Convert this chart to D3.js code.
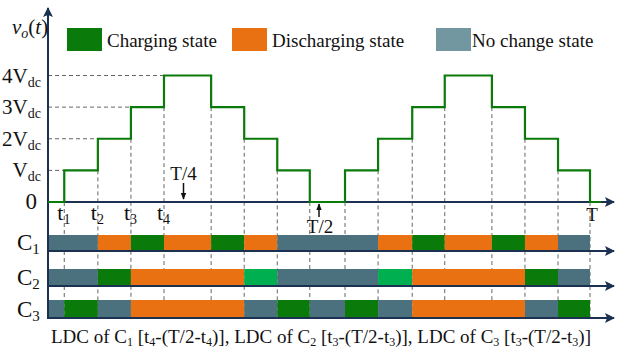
<!DOCTYPE html>
<html>
<head>
<meta charset="utf-8">
<script src="https://cdn.jsdelivr.net/npm/d3@7"></script>
<style>
  body { margin: 0; background: #fff; }
  svg text { font-family: "Liberation Serif", "Times New Roman", serif; fill: #111; }
</style>
</head>
<body>
<script>
// step boundaries, as a fraction of the period T
const bounds = [0, 0.030, 0.092, 0.153, 0.214, 0.301, 0.362, 0.423, 0.483,
  0.548, 0.609, 0.672, 0.732, 0.819, 0.880, 0.941, 1.0];
// output level (multiples of Vdc) starting at each boundary
const levels = [0, 1, 2, 3, 4, 3, 2, 1, 0, 1, 2, 3, 4, 3, 2, 1, 0];
const levelLabels = ['0', 'V', '2V', '3V', '4V'];
const timeLabels = [
  {t: 0.030, sub: '1'}, {t: 0.092, sub: '2'}, {t: 0.153, sub: '3'}, {t: 0.214, sub: '4'}
];

// capacitor states: [start, end, state] ; c = charging, d = discharging, n = no change, l = charging (light)
const c1States = [[0, 0.092, 'n'], [0.092, 0.153, 'd'], [0.153, 0.214, 'c'], [0.214, 0.301, 'd'],
  [0.301, 0.362, 'c'], [0.362, 0.423, 'd'], [0.423, 0.609, 'n'], [0.609, 0.672, 'd'],
  [0.672, 0.732, 'c'], [0.732, 0.819, 'd'], [0.819, 0.880, 'c'], [0.880, 0.941, 'd'], [0.941, 1.0, 'n']];
const c2States = [[0, 0.092, 'n'], [0.092, 0.153, 'c'], [0.153, 0.362, 'd'], [0.362, 0.423, 'l'],
  [0.423, 0.609, 'n'], [0.609, 0.672, 'l'], [0.672, 0.880, 'd'], [0.880, 0.941, 'c'], [0.941, 1.0, 'n']];
const c3States = [[0, 0.030, 'n'], [0.030, 0.092, 'c'], [0.092, 0.153, 'n'], [0.153, 0.362, 'd'],
  [0.362, 0.423, 'n'], [0.423, 0.483, 'c'], [0.483, 0.548, 'n'], [0.548, 0.609, 'c'],
  [0.609, 0.672, 'n'], [0.672, 0.880, 'd'], [0.880, 0.941, 'n'], [0.941, 1.0, 'c']];

const legendItems = [
  {state: 'c', label: 'Charging state'},
  {state: 'd', label: 'Discharging state'},
  {state: 'n', label: 'No change state'}
];

const colours = {c: '#0a7a0a', d: '#e97112', n: '#4b717e', l: '#00b050'};
const legendColours = {c: '#0a7a0a', d: '#e97112', n: '#7297a0'};
const axisColour = '#1c3152';

const width = 620;
const height = 352;
const origin = 48;
const baseY = 202;
const arrowX = 614;
const rows = [
  {name: '1', states: c1States, top: 235, axis: 251},
  {name: '2', states: c2States, top: 269, axis: 286},
  {name: '3', states: c3States, top: 300, axis: 318}
];

const svg = d3.select('body').append('svg')
  .attr('width', width)
  .attr('height', height);

const x = d3.scaleLinear().domain([0, 1]).range([origin, 590]);
const y = d3.scaleLinear().domain([0, 4]).range([baseY, 75.5]);

const defs = svg.append('defs');
defs.append('marker')
    .attr('id', 'arrowBig')
    .attr('viewBox', '0 0 10 10')
    .attr('refX', 9)
    .attr('refY', 5)
    .attr('markerWidth', 10)
    .attr('markerHeight', 10)
    .attr('markerUnits', 'userSpaceOnUse')
    .attr('orient', 'auto')
  .append('path')
    .attr('d', 'M0,0 L10,5 L0,10 L2,5 Z')
    .attr('fill', axisColour);
defs.append('marker')
    .attr('id', 'arrowSmall')
    .attr('viewBox', '0 0 10 10')
    .attr('refX', 9)
    .attr('refY', 5)
    .attr('markerWidth', 7)
    .attr('markerHeight', 7)
    .attr('markerUnits', 'userSpaceOnUse')
    .attr('orient', 'auto')
  .append('path')
    .attr('d', 'M0,1 L10,5 L0,9 Z')
    .attr('fill', '#111');

// dashed guides
const guides = svg.append('g')
  .attr('stroke', '#666')
  .attr('stroke-width', 1)
  .attr('stroke-dasharray', '4,3');

for (let i = 1; i < bounds.length; i++) {
  guides.append('line')
    .attr('x1', x(bounds[i])).attr('x2', x(bounds[i]))
    .attr('y1', y(Math.min(levels[i - 1], levels[i])))
    .attr('y2', rows[2].axis);
}
for (let k = 1; k <= 4; k++) {
  guides.append('line')
    .attr('x1', origin).attr('x2', x(bounds[k]))
    .attr('y1', y(k)).attr('y2', y(k));
}

// state bars
rows.forEach(row => {
  svg.append('g').selectAll('rect')
    .data(row.states)
    .enter().append('rect')
      .attr('x', d => x(d[0]))
      .attr('width', d => x(d[1]) - x(d[0]))
      .attr('y', row.top)
      .attr('height', row.axis - row.top)
      .attr('fill', d => colours[d[2]]);

  svg.append('line')
    .attr('x1', origin).attr('x2', arrowX)
    .attr('y1', row.axis).attr('y2', row.axis)
    .attr('stroke', axisColour)
    .attr('stroke-width', 2)
    .attr('marker-end', 'url(#arrowBig)');

  const lab = svg.append('text')
    .attr('x', 17)
    .attr('y', row.axis - 1)
    .attr('font-size', 23);
  lab.append('tspan').text('C');
  lab.append('tspan').attr('font-size', 15).attr('dy', 4).text(row.name);
});

// main axes
svg.append('line')
  .attr('x1', origin).attr('x2', origin)
  .attr('y1', rows[2].axis + 1).attr('y2', 8)
  .attr('stroke', axisColour)
  .attr('stroke-width', 2)
  .attr('marker-end', 'url(#arrowBig)');
svg.append('line')
  .attr('x1', origin).attr('x2', arrowX)
  .attr('y1', baseY).attr('y2', baseY)
  .attr('stroke', axisColour)
  .attr('stroke-width', 2)
  .attr('marker-end', 'url(#arrowBig)');

// staircase output voltage
const stepLine = d3.line()
  .x(d => x(d[0]))
  .y(d => y(d[1]))
  .curve(d3.curveStepAfter);
const stepPoints = bounds.map((b, i) => [b, levels[i]]).concat([[1.02, 0]]);
svg.append('path')
  .attr('d', stepLine(stepPoints))
  .attr('fill', 'none')
  .attr('stroke', colours.c)
  .attr('stroke-width', 2.2);

// level labels
levelLabels.forEach((l, i) => {
  const t = svg.append('text')
    .attr('x', i === 0 ? 37 : 41)
    .attr('y', y(i) + 7)
    .attr('text-anchor', 'end')
    .attr('font-size', i === 0 ? 23 : 21);
  t.append('tspan').text(l);
  if (i > 0) t.append('tspan').attr('font-size', 14).attr('dy', 4).text('dc');
});

// y label v_o(t)
const vlab = svg.append('text').attr('x', 12).attr('y', 34).attr('font-size', 21);
vlab.append('tspan').attr('font-style', 'italic').text('v');
vlab.append('tspan').attr('font-style', 'italic').attr('font-size', 14).attr('dy', 4).text('o');
vlab.append('tspan').attr('dy', -4).text('(');
vlab.append('tspan').attr('font-style', 'italic').text('t');
vlab.append('tspan').text(')');

// time labels
timeLabels.forEach(d => {
  const t = svg.append('text')
    .attr('x', x(d.t) - 7)
    .attr('y', 220)
    .attr('font-size', 22);
  t.append('tspan').text('t');
  t.append('tspan').attr('font-size', 14).attr('dy', 4).text(d.sub);
});
svg.append('text')
  .attr('x', x(1) + 2).attr('y', 221)
  .attr('text-anchor', 'middle')
  .attr('font-size', 19)
  .text('T');

// T/4 and T/2 markers
svg.append('text')
  .attr('x', x(0.25)).attr('y', 180)
  .attr('text-anchor', 'middle')
  .attr('font-size', 19)
  .text('T/4');
svg.append('line')
  .attr('x1', x(0.25)).attr('x2', x(0.25))
  .attr('y1', 183).attr('y2', 199)
  .attr('stroke', '#111').attr('stroke-width', 1.5)
  .attr('marker-end', 'url(#arrowSmall)');
svg.append('text')
  .attr('x', x(0.5) + 1).attr('y', 233)
  .attr('text-anchor', 'middle')
  .attr('font-size', 19)
  .text('T/2');
svg.append('line')
  .attr('x1', x(0.5)).attr('x2', x(0.5))
  .attr('y1', 217).attr('y2', 204)
  .attr('stroke', '#111').attr('stroke-width', 1.5)
  .attr('marker-end', 'url(#arrowSmall)');

// legend
const legendX = [67, 232, 436];
const legend = svg.append('g').selectAll('g')
  .data(legendItems)
  .enter().append('g')
    .attr('transform', (d, i) => `translate(${legendX[i]},28)`);
legend.append('rect')
  .attr('width', 35).attr('height', 23)
  .attr('fill', d => legendColours[d.state]);
legend.append('text')
  .attr('x', (d, i) => i === 2 ? 36 : 40)
  .attr('y', 19)
  .attr('font-size', 19)
  .text(d => d.label);

// caption
const cap = svg.append('text')
  .attr('x', 51).attr('y', 343)
  .attr('font-size', 19);
const capParts = [
  ['LDC of C', ''], ['1', 's'], [' [t', ''], ['4', 's'], ['-(T/2-t', ''], ['4', 's'], [')], LDC of C', ''],
  ['2', 's'], [' [t', ''], ['3', 's'], ['-(T/2-t', ''], ['3', 's'], [')], LDC of C', ''],
  ['3', 's'], [' [t', ''], ['3', 's'], ['-(T/2-t', ''], ['3', 's'], [')]', '']
];
let lowered = false;
capParts.forEach(p => {
  const ts = cap.append('tspan').text(p[0]);
  if (p[1] === 's') {
    ts.attr('font-size', 12).attr('dy', lowered ? 0 : 3);
    lowered = true;
  } else {
    if (lowered) ts.attr('dy', -3);
    lowered = false;
  }
});
</script>
</body>
</html>
